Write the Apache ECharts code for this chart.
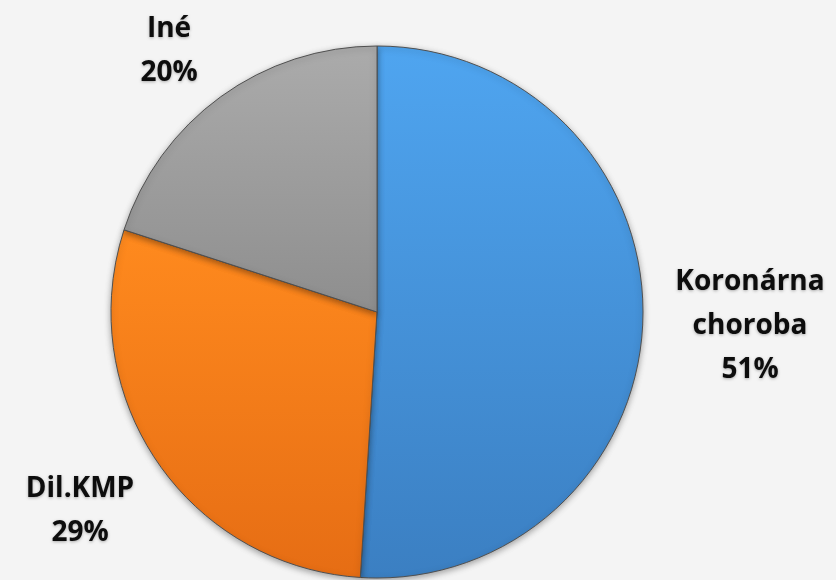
<!DOCTYPE html>
<html>
<head>
<meta charset="utf-8">
<script src="https://cdn.jsdelivr.net/npm/echarts@6/dist/echarts.min.js"></script>
<style>
  html, body { margin: 0; padding: 0; background: #f4f4f4; }
  #chart { width: 836px; height: 580px; }
</style>
</head>
<body>
<div id="chart"></div>
<script>
// data
var categories = ['Koronárna\nchoroba', 'Dil.KMP', 'Iné'];
var values = [51, 29, 20];

// slice colours (top -> bottom of a soft gradient)
var colorTop = ['#4fa5f0', '#ff8a1e', '#ababab'];
var colorBottom = ['#3b7fc2', '#e66d14', '#8e8e8e'];
// where each label sits (centre of the text block)
var labelPos = [[750, 326], [80, 511], [169, 51]];

var chart = echarts.init(document.getElementById('chart'));

var pieData = categories.map(function (name, i) {
  return {
    name: name,
    value: values[i],
    itemStyle: {
      color: new echarts.graphic.LinearGradient(0, 0, 0, 1, [
        { offset: 0, color: colorTop[i] },
        { offset: 1, color: colorBottom[i] }
      ])
    }
  };
});

chart.setOption({
  backgroundColor: '#f4f4f4',
  animation: false,
  series: [{
    type: 'pie',
    center: [377, 312],
    radius: 266,
    startAngle: 90,
    clockwise: true,
    data: pieData,
    itemStyle: {
      borderColor: '#505050',
      borderWidth: 1,
      shadowColor: 'rgba(0,0,0,0.35)',
      shadowBlur: 6,
      shadowOffsetY: 2
    },
    label: {
      show: true,
      position: 'outside',
      formatter: '{b}\n{d}%',
      fontFamily: 'Open Sans',
      fontWeight: 'bold',
      fontSize: 28,
      lineHeight: 44,
      overflow: 'none',
      color: '#0d0d0d',
      align: 'center',
      textShadowColor: 'rgba(0,0,0,0.3)',
      textShadowBlur: 3,
      textShadowOffsetY: 1
    },
    labelLine: { show: false },
    labelLayout: function (p) {
      var pos = labelPos[p.dataIndex];
      return {
        x: pos[0],
        y: pos[1],
        align: 'center',
        verticalAlign: 'middle'
      };
    },
    emphasis: { disabled: true }
  }]
});
</script>
</body>
</html>
